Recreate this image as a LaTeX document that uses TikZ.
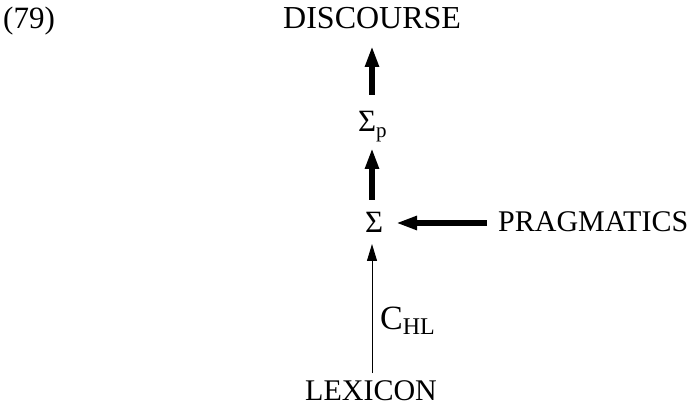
\documentclass[tikz,border=0pt]{standalone}
\usepackage{fontspec}
\setmainfont{Liberation Serif}
\usetikzlibrary{arrows.meta}
\tikzset{
  lbl/.style={inner sep=0pt, anchor=base west, font=\fontsize{31}{31}\selectfont},
  thickarr/.style={line width=5.5pt, -{Triangle[length=21pt,width=13pt]}},
  thinarr/.style={line width=1pt, -{Triangle[length=17pt,width=10pt]}}
}
\begin{document}
\begin{tikzpicture}[x=1pt,y=-1pt]
\useasboundingbox (0,0) rectangle (694,406);
\node[lbl] (num) at (3,29) {(79)};
\node[lbl, font=\fontsize{32}{32}\selectfont] (disc) at (283,29) {DISCOURSE};
\node[lbl] (sigp) at (358,132) {Σ\raisebox{-6pt}{\fontsize{21}{21}\selectfont p}};
\node[lbl] (sig) at (365,233) {Σ};
\node[lbl, font=\fontsize{30}{30}\selectfont] (prag) at (498,232) {PRAGMATICS};
\node[lbl, font=\fontsize{30}{30}\selectfont] (lex) at (305,400) {LEXICON};
\node[lbl, font=\fontsize{34}{34}\selectfont] (chl) at (380,330) {C\raisebox{-5pt}{\fontsize{24}{24}\selectfont HL}};
\coordinate (a1s) at (372,95);
\coordinate (a1e) at (372,46);
\coordinate (a2s) at (372,200);
\coordinate (a2e) at (372,148);
\coordinate (hs) at (487,223);
\coordinate (he) at (396,223);
\coordinate (ts) at (372,373);
\coordinate (te) at (372,244);
\draw[thickarr] (a1s) -- (a1e);
\draw[thickarr] (a2s) -- (a2e);
\draw[thickarr] (hs) -- (he);
\draw[thinarr] (ts) -- (te);
\end{tikzpicture}
\end{document}
